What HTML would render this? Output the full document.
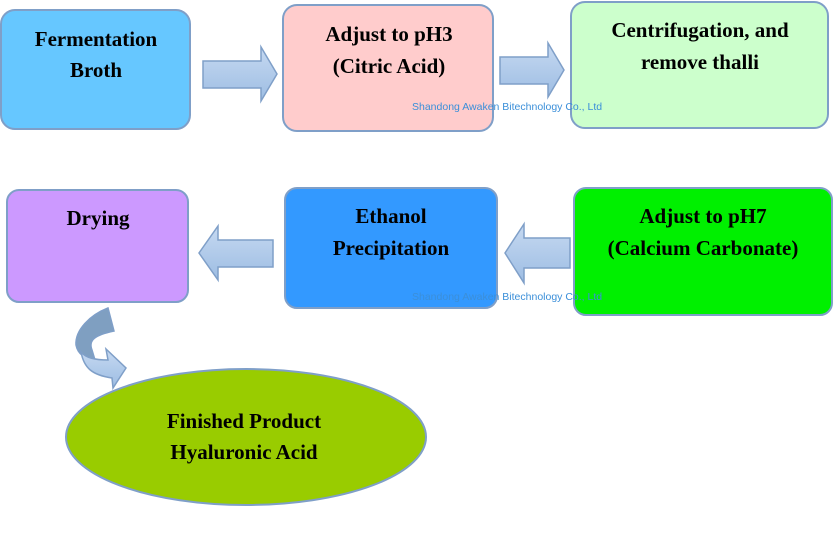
<!DOCTYPE html>
<html><head><style>body{margin:0;background:#fff}svg{display:block}</style></head><body>
<svg width="834" height="533" viewBox="0 0 834 533" xmlns="http://www.w3.org/2000/svg">
<defs>
<linearGradient id="ar" x1="0" y1="0" x2="0" y2="1"><stop offset="0" stop-color="#c6d9f1"/><stop offset="1" stop-color="#9dbde3"/></linearGradient>
</defs>
<g stroke="#7f9fc8" stroke-width="2">
<rect x="1" y="10" width="189" height="119" rx="14" fill="#66c7ff"/>
<rect x="283" y="5" width="210" height="126" rx="14" fill="#ffcccc"/>
<rect x="571" y="2" width="257" height="126" rx="14" fill="#ccffcc"/>
<rect x="7" y="190" width="181" height="112" rx="12" fill="#cc99ff"/>
<rect x="285" y="188" width="212" height="120" rx="12" fill="#3399ff"/>
<rect x="574" y="188" width="258" height="127" rx="12" fill="#00f000"/>
</g>
<g fill="url(#ar)" stroke="#7f9fc8" stroke-width="1.5">
<path d="M203 61H261V47L277 74L261 101V88H203Z"/>
<path d="M500 57H548V43L564 70L548 97V84H500Z"/>
<path d="M273 240H218V226L199 253L218 280V267H273Z"/>
<path d="M570 238H524V224L505 253L524 283V268H570Z"/>
<path d="M108 308C90 315 75 330 76 345C78 355 85 358 95 360L92 350C88 340 95 335 114 331Z" fill="#7f9fc1"/>
<path d="M81 352C84 368 92 375 112 378L113 388L126 368L106 349L108 360C95 360 86 358 81 352Z"/>
</g>
<ellipse cx="246" cy="437" rx="180" ry="68" fill="#99cc00" stroke="#7f9fc8" stroke-width="2"/>
<g font-family="Liberation Serif, serif" font-weight="bold" font-size="21" text-anchor="middle" fill="#000">
<text x="96" y="46">Fermentation</text><text x="96" y="77">Broth</text>
<text x="389" y="41">Adjust to pH3</text><text x="389" y="73">(Citric Acid)</text>
<text x="700" y="37">Centrifugation, and</text><text x="700" y="69">remove thalli</text>
<text x="98" y="225">Drying</text>
<text x="391" y="223">Ethanol</text><text x="391" y="255">Precipitation</text>
<text x="703" y="223">Adjust to pH7</text><text x="703" y="255">(Calcium Carbonate)</text>
<text x="244" y="428">Finished Product</text><text x="244" y="459">Hyaluronic Acid</text>
</g>
<g font-family="Liberation Sans, sans-serif" font-size="10.5" fill="#3b8fd9">
<text x="412" y="110">Shandong Awaken Bitechnology Co., Ltd</text>
<text x="412" y="300">Shandong Awaken Bitechnology Co., Ltd</text>
</g>
</svg>
</body></html>
